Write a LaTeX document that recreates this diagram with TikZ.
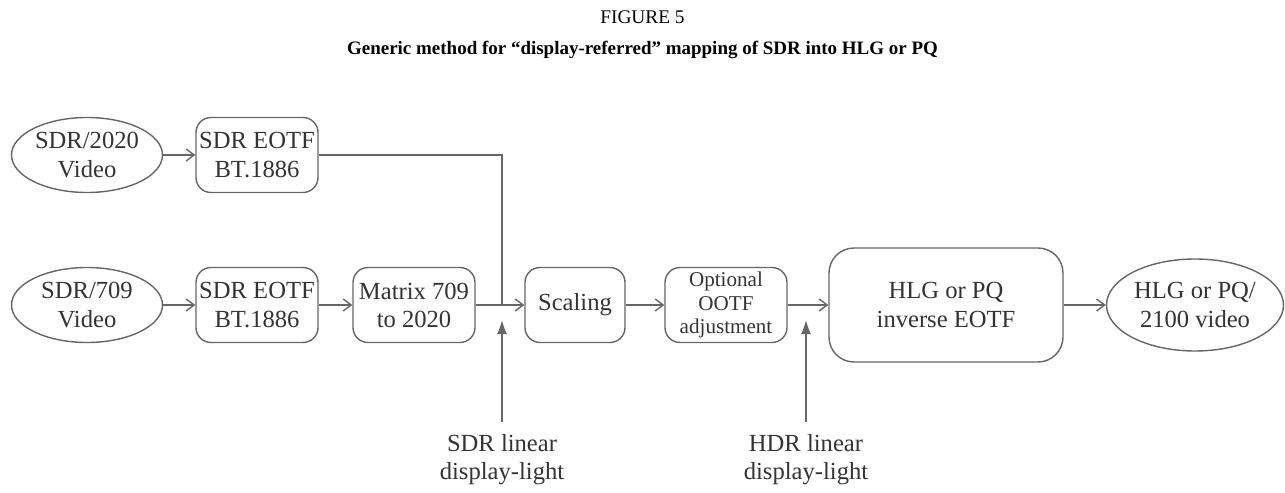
\documentclass[tikz,border=0pt]{standalone}
\usepackage{fontspec}
\setmainfont{Liberation Serif}
\usepackage{xcolor}
\usepackage{tikz}
\usetikzlibrary{arrows.meta}
\usetikzlibrary{shapes}
\usetikzlibrary{shapes.geometric}
\definecolor{linegray}{HTML}{666666}
\definecolor{txtgray}{HTML}{333333}
\tikzstyle{proc} = [rectangle, rounded corners=0.3cm, draw=linegray, line width=0.8pt, text=txtgray, align=center, inner sep=0pt, minimum width=2.44cm, minimum height=1.5cm, font=\fontsize{14}{16}\selectfont]
\tikzstyle{vid} = [ellipse, draw=linegray, line width=0.8pt, text=txtgray, align=center, inner sep=0pt, minimum width=3.02cm, minimum height=1.5cm, font=\fontsize{14}{16}\selectfont]
\tikzstyle{flow} = [-{Straight Barb[length=1.6mm, width=2.4mm]}, draw=linegray, line width=0.8pt]
\tikzstyle{feed} = [-{Latex[length=2.8mm, width=2mm]}, draw=linegray, line width=0.9pt]

\begin{document}
\begin{tikzpicture}
\useasboundingbox (0, 0) rectangle (25.7, 9.84);
\node [draw=none, text=black, font=\fontsize{11}{13}\selectfont] (fig) at (12.85, 9.5) {FIGURE 5};
\node [draw=none, text=black, font=\fontsize{10.8}{13}\selectfont\bfseries] (title) at (12.85, 8.84) {Generic method for “display-referred” mapping of SDR into HLG or PQ};
\node [vid] (V2020) at (1.74, 6.74) {SDR/2020\\Video};
\node [proc] (E2020) at (5.14, 6.74) {SDR EOTF\\BT.1886};
\node [vid] (V709) at (1.74, 3.74) {SDR/709\\Video};
\node [proc] (E709) at (5.14, 3.74) {SDR EOTF\\BT.1886};
\node [proc] (M) at (8.28, 3.74) {Matrix 709\\to 2020};
\node [proc, minimum width=2.0cm] (S) at (11.5, 3.74) {Scaling};
\node [proc, font=\fontsize{12}{13.4}\selectfont] (O) at (14.52, 3.74) {Optional\\OOTF\\adjustment};
\node [proc, rounded corners=0.5cm, minimum width=4.68cm, minimum height=2.28cm] (H) at (18.92, 3.74) {HLG or PQ\\inverse EOTF};
\node [vid, minimum width=3.54cm, minimum height=1.84cm] (VH) at (23.9, 3.74) {HLG or PQ/\\2100 video};
\coordinate (J1) at (10.04, 3.74);
\coordinate (T1) at (10.04, 3.44);
\coordinate (B1) at (10.04, 1.4);
\coordinate (T2) at (16.12, 3.44);
\coordinate (B2) at (16.12, 1.4);
\node [draw=none, text=txtgray, align=center, font=\fontsize{14}{16}\selectfont] (SL) at (10.04, 0.64) {SDR linear\\display-light};
\node [draw=none, text=txtgray, align=center, font=\fontsize{14}{16}\selectfont] (HL) at (16.12, 0.64) {HDR linear\\display-light};
\draw [flow] (V2020) to (E2020);
\draw [draw=linegray, line width=0.8pt] (E2020.east) -| (J1);
\draw [flow] (V709) to (E709);
\draw [flow] (E709) to (M);
\draw [flow] (M) to (S);
\draw [flow] (S) to (O);
\draw [flow] (O) to (H);
\draw [flow] (H) to (VH);
\draw [feed] (B1) to (T1);
\draw [feed] (B2) to (T2);
\end{tikzpicture}
\end{document}
